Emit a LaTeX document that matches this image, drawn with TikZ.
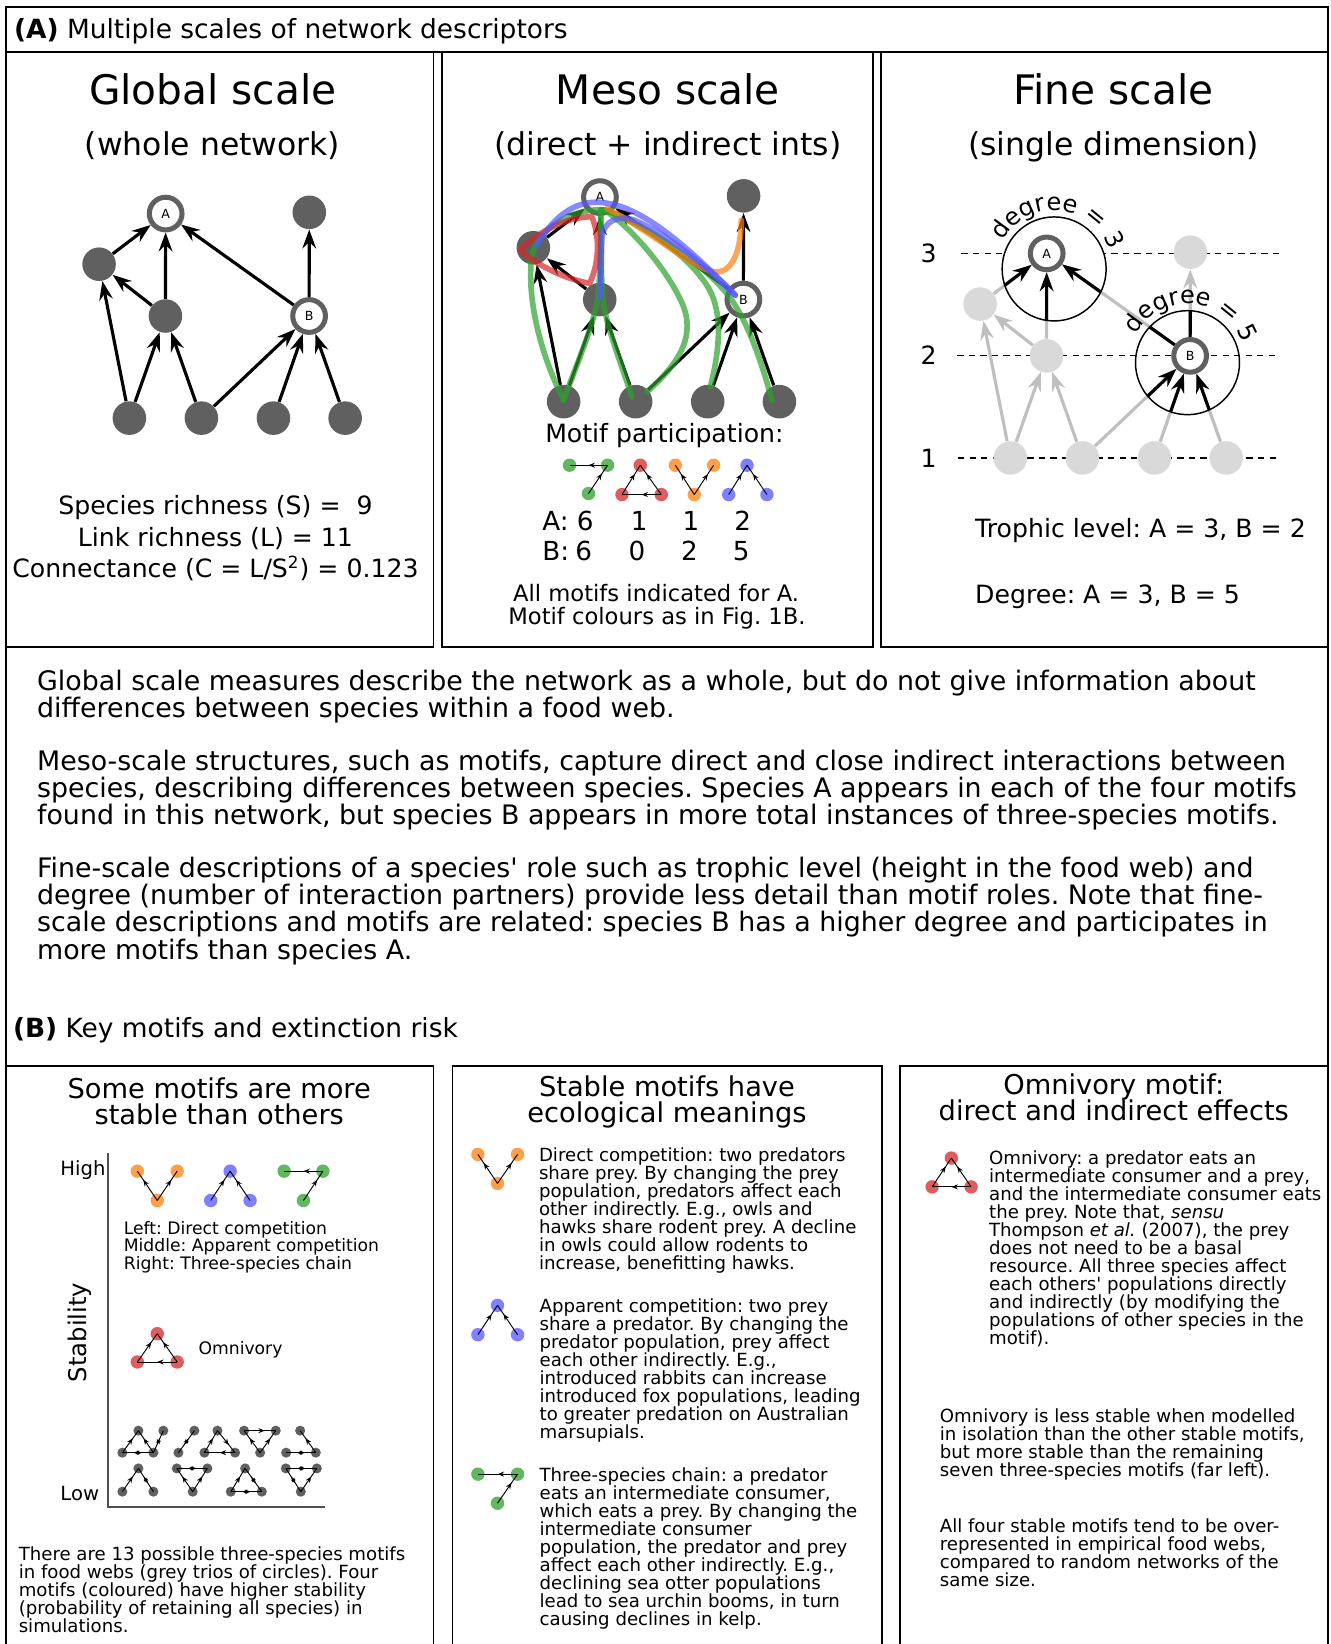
\documentclass[tikz,border=0pt]{standalone}
\usepackage{fontspec}
\setmainfont{DejaVu Sans}
\usetikzlibrary{arrows.meta,decorations.markings,decorations.text}
\frenchspacing

\definecolor{nodegrey}{HTML}{606060}
\definecolor{palegrey}{HTML}{D9D9D9}
\definecolor{edgegrey}{HTML}{BFBFBF}
\definecolor{axisgrey}{HTML}{505050}
\definecolor{motgreen}{HTML}{2CA02C}
\definecolor{motred}{HTML}{D62728}
\definecolor{motorange}{HTML}{FF7F0E}
\definecolor{motblue}{HTML}{5555FF}

\tikzstyle{boxline} = [line width=0.9pt]
\tikzstyle{species} = [circle, fill=nodegrey, minimum size=16pt, inner sep=0pt]
\tikzstyle{faded} = [circle, fill=palegrey, minimum size=16pt, inner sep=0pt]
\tikzstyle{focal} = [circle, draw=nodegrey, line width=2.4pt, fill=white,
  minimum size=15.6pt, inner sep=0pt, font=\fontsize{6}{6}\selectfont]
\tikzstyle{feeds} = [-{Stealth[length=9pt,width=6.5pt,inset=3pt]}, line width=1.5pt]
\tikzstyle{fadedfeeds} = [feeds, draw=edgegrey]
\tikzstyle{motifpath} = [line width=2.7pt, draw opacity=0.7, line cap=round, line join=round]
\tikzstyle{motdot} = [circle, minimum size=6.4pt, inner sep=0pt, fill opacity=0.75]
\tikzstyle{greydot} = [circle, fill=nodegrey, minimum size=4.8pt, inner sep=0pt]
\tikzstyle{iconline} = [line width=0.45pt]
\tikzstyle{bigtitle} = [font=\fontsize{19.4}{22}\selectfont, inner sep=0pt, anchor=base]
\tikzstyle{subtitle} = [font=\fontsize{15}{18}\selectfont, inner sep=0pt, anchor=base]
\tikzstyle{bodytext} = [font=\fontsize{12}{13}\selectfont, inner sep=0pt]
\tikzstyle{headtext} = [font=\fontsize{12.6}{13}\selectfont, inner sep=0pt, anchor=base west]
\tikzstyle{paratext} = [font=\fontsize{12.8}{13}\selectfont, inner sep=0pt, align=left, anchor=north west]
\tikzstyle{digits} = [font=\fontsize{12.5}{13}\selectfont, inner sep=0pt, anchor=base]
\tikzstyle{notetext} = [font=\fontsize{10.8}{11}\selectfont, inner sep=0pt, anchor=base]
\tikzstyle{boxtitle} = [font=\fontsize{13}{12.7}\selectfont, inner sep=0pt, align=center, anchor=north]
\tikzstyle{smalltext} = [font=\fontsize{8.65}{8.6}\selectfont, inner sep=0pt, align=left, anchor=north west]
\tikzstyle{keytext} = [font=\fontsize{8.2}{8.3}\selectfont, inner sep=0pt, align=left, anchor=north west]
\tikzstyle{levelline} = [dashed, line width=0.6pt, dash pattern=on 3pt off 2.5pt]

\tikzset{
  midtip/.style={postaction={decorate}, decoration={markings,
    mark=at position #1 with {\arrow{Stealth[length=3pt,width=2.4pt]}}}},
  bothtip/.style={postaction={decorate}, decoration={markings,
    mark=at position 0.36 with {\arrowreversed{Stealth[length=2.6pt,width=2pt]}},
    mark=at position 0.64 with {\arrow{Stealth[length=2.6pt,width=2pt]}}}},
}

% three small circles of one motif
\newcommand{\trio}[5]{%
  \node[#2] (#11) at (#3) {};
  \node[#2] (#12) at (#4) {};
  \node[#2] (#13) at (#5) {};}

% the nine species of the example web
\newcommand{\foodweb}[3]{%
  \node[#3] (#1A) at (158,203.7) {A};
  \node[#2] (#1T) at (295,202.5) {};
  \node[#2] (#1L) at (94.5,252) {};
  \node[#2] (#1M) at (157.8,301.4) {};
  \node[#3] (#1B) at (294.8,301.4) {B};
  \node[#2] (#11) at (123.4,398.8) {};
  \node[#2] (#12) at (192.1,398.8) {};
  \node[#2] (#13) at (260.8,398.8) {};
  \node[#2] (#14) at (329.2,398.8) {};}

\begin{document}
\begin{tikzpicture}[x=0.5pt,y=-0.5pt]
\useasboundingbox (0,0) rectangle (1269,1568);

% frames
\draw[boxline] (6,1568) -- (6,7) -- (1267,7) -- (1267,1568);
\draw[boxline] (6,49.5) -- (1267,49.5);
\node[headtext] (headA) at (13,37) {\textbf{(A)} Multiple scales of network descriptors};
\draw[boxline] (6,49.5) rectangle (413.5,617);
\draw[boxline] (421.4,49.5) rectangle (832.7,617);
\draw[boxline] (840.6,49.5) rectangle (1267,617);

% global scale
\node[bigtitle] (globhead) at (203,100) {Global scale};
\node[subtitle] (globsub) at (202.8,148) {(whole network)};
\foodweb{g}{species}{focal}
\foreach \s/\t in {L/A,M/A,B/A,B/T,M/L,1/L,1/M,2/M,2/B,3/B,4/B}
  \draw[feeds] (g\s) -- (g\t);
\node[bodytext, anchor=base] (richS) at (205.5,491) {Species richness (S) =\ \ 9};
\node[bodytext, anchor=base] (richL) at (205.5,521) {Link richness (L) = 11};
\node[bodytext, anchor=base] (connC) at (205.5,551) {Connectance (C = L/S\textsuperscript{2}) = 0.123};

% meso scale
\node[bigtitle] (mesohead) at (637,100) {Meso scale};
\node[subtitle] (mesosub) at (637,148) {(direct + indirect ints)};
\begin{scope}[shift={(414.2,-15.7)}]
\foodweb{m}{species}{focal}
\end{scope}
\foreach \s/\t in {L/A,M/A,B/A,B/T,M/L,1/L,1/M,2/M,2/B,3/B,4/B}
  \draw[feeds] (m\s) -- (m\t);

\draw[motifpath, motgreen] (537.5,381.7) .. controls (512,330) and (503,280) .. (507,245)
  .. controls (512,218) and (545,200) .. (572.5,200);
\draw[motifpath, motgreen] (537.5,381.7) .. controls (553,340) and (566,310) .. (570,285)
  .. controls (573,260) and (573,225) .. (573,200);
\draw[motifpath, motgreen] (602.7,378.5) .. controls (590,340) and (578,310) .. (575,285)
  .. controls (573,260) and (573,225) .. (573,200);
\draw[motifpath, motgreen] (617,373.7) .. controls (650,345) and (664,318) .. (650,288)
  .. controls (635,255) and (600,215) .. (576,200);
\draw[motifpath, motgreen] (677.5,369) .. controls (686,335) and (690,300) .. (676,275)
  .. controls (655,240) and (605,210) .. (576,200);
\draw[motifpath, motgreen] (736.3,381.7) .. controls (725,340) and (712,305) .. (695,282)
  .. controls (665,245) and (610,212) .. (576,200);
\draw[motifpath, motred] (496,238.5) .. controls (515,220) and (540,207) .. (564.5,206.7)
  .. controls (572,225) and (572,250) .. (562.3,270.3)
  .. controls (540,266) and (515,255) .. cycle;
\draw[motifpath, motorange] (578.9,198.8) .. controls (620,220) and (660,255) .. (680.6,259.2)
  .. controls (700,262) and (707,235) .. (707,210);
\draw[motifpath, motblue] (512,233.8) .. controls (535,195) and (560,190) .. (580,194)
  .. controls (620,200) and (670,250) .. (701.3,281.5);
\draw[motifpath, motblue] (572.5,283.5) -- (574,228) .. controls (575,210) and (590,205) .. (605,210)
  .. controls (640,225) and (680,260) .. (701.3,281.5);

\node[bodytext, anchor=base] (partic) at (633.7,421.9) {Motif participation:};
\trio{pg}{motdot, fill=motgreen}{543.2,443.7}{579.5,443.7}{561.3,470.7}
\trio{pr}{motdot, fill=motred}{610.7,443.7}{593.2,471.7}{630.7,471.7}
\trio{po}{motdot, fill=motorange}{644.1,443.7}{680.6,443.7}{662.2,471.7}
\trio{pb}{motdot, fill=motblue}{712.5,443.7}{695,471.7}{731.5,471.7}
\draw[iconline, midtip=0.5] (pg2.center) -- (pg1.center);
\draw[iconline, midtip=0.7] (pg3.center) -- (pg2.center);
\draw[iconline, midtip=0.7] (pr2.center) -- (pr1.center);
\draw[iconline, midtip=0.7] (pr3.center) -- (pr1.center);
\draw[iconline, midtip=0.5] (pr3.center) -- (pr2.center);
\draw[iconline, midtip=0.7] (po3.center) -- (po1.center);
\draw[iconline, midtip=0.7] (po3.center) -- (po2.center);
\draw[iconline, midtip=0.7] (pb2.center) -- (pb1.center);
\draw[iconline, midtip=0.7] (pb3.center) -- (pb1.center);

\node[digits, anchor=base west] (rowA) at (516.8,505.8) {A:};
\node[digits, anchor=base west] (rowB) at (516.8,534.4) {B:};
\foreach \n/\x [count=\i] in {6/558.2,1/609.7,1/659,2/708.3}
  \node[digits] (cntA\i) at (\x,505.8) {\n};
\foreach \n/\x [count=\i] in {6/556.7,0/607.5,2/657.6,5/706.9}
  \node[digits] (cntB\i) at (\x,534.4) {\n};
\node[notetext] (notea) at (625.8,573.5) {All motifs indicated for A.};
\node[notetext] (noteb) at (626.6,595.5) {Motif colours as in Fig. 1B.};

% fine scale
\node[bigtitle] (finehead) at (1061.8,100) {Fine scale};
\node[subtitle] (finesub) at (1062,148) {(single dimension)};
\coordinate (ringA) at (1005.4,256.5);
\coordinate (ringB) at (1132.6,345.9);
\draw[levelline] (917,241.7) -- (1224,241.7);
\draw[levelline] (913,339.4) -- (1216.6,339.4);
\draw[levelline] (913.8,436.8) -- (1221.4,436.8);
\node[bodytext, anchor=base] (lev3) at (885.8,250.4) {3};
\node[bodytext, anchor=base] (lev2) at (885.8,348) {2};
\node[bodytext, anchor=base] (lev1) at (885.8,445.5) {1};
\fill[white] (ringA) circle[radius=49.6];
\begin{scope}[shift={(840.3,38)}]
\foodweb{f}{faded}{focal}
\end{scope}
\foreach \s/\t in {L/A,M/A,B/A,B/T,M/L,1/L,1/M,2/M,2/B,3/B,4/B}
  \draw[fadedfeeds] (f\s) -- (f\t);
\begin{scope}
\clip (ringA) circle[radius=49.6];
\foreach \s in {L,M,B}
  \draw[feeds] (f\s) -- (fA);
\end{scope}
\begin{scope}
\clip (ringB) circle[radius=49.6];
\foreach \s/\t in {B/A,B/T,2/B,3/B,4/B}
  \draw[feeds] (f\s) -- (f\t);
\end{scope}
\draw[line width=0.7pt] (ringA) circle[radius=49.6];
\draw[line width=0.7pt] (ringB) circle[radius=49.6];
\path[decorate, decoration={text along path, text align=center,
  text={|\fontsize{11.5}{12}\selectfont|degree = 3}}]
  (ringA) ++(-160:56) arc[start angle=-160, end angle=-10, radius=56];
\path[decorate, decoration={text along path, text align=center,
  text={|\fontsize{11.5}{12}\selectfont|degree = 5}}]
  (ringB) ++(-160:56) arc[start angle=-160, end angle=-10, radius=56];
\node[bodytext, anchor=base west] (troph) at (929.7,512.2) {Trophic level: A = 3, B = 2};
\node[bodytext, anchor=base west] (degr) at (929.7,575.4) {Degree: A = 3, B = 5};

% explanation
\node[paratext] (paraglob) at (35,638.5)
  {Global scale measures describe the network as a whole, but do not give information about\\
   differences between species within a food web.};
\node[paratext] (parameso) at (35,715)
  {Meso-scale structures, such as motifs, capture direct and close indirect interactions between\\
   species, describing differences between species. Species A appears in each of the four motifs\\
   found in this network, but species B appears in more total instances of three-species motifs.};
\node[paratext] (parafine) at (35,817)
  {Fine-scale descriptions of a species\textquotesingle\ role such as trophic level (height in the food web) and\\
   degree (number of interaction partners) provide less detail than motif roles. Note that fine-\\
   scale descriptions and motifs are related: species B has a higher degree and participates in\\
   more motifs than species A.};

\node[headtext] (headB) at (12,990) {\textbf{(B)} Key motifs and extinction risk};
\draw[boxline] (6,1568) -- (6,1017) -- (413.5,1017) -- (413.5,1568);
\draw[boxline] (431.6,1568) -- (431.6,1017) -- (841.3,1017) -- (841.3,1568);
\draw[boxline] (858.8,1568) -- (858.8,1017) -- (1267,1017) -- (1267,1568);

% stability panel
\node[boxtitle] (stabhead) at (209.1,1027.2) {Some motifs are more\\stable than others};
\draw[axisgrey, line width=0.8pt] (102.7,1100) -- (102.7,1437) -- (309.6,1437);
\node[font=\fontsize{11.6}{12}\selectfont, rotate=90, inner sep=0pt] (stabaxis) at (76.3,1270.8) {Stability};
\node[font=\fontsize{9.35}{10}\selectfont, inner sep=0pt, anchor=base west] (high) at (57.3,1121.6) {High};
\node[font=\fontsize{9.35}{10}\selectfont, inner sep=0pt, anchor=base west] (low) at (57.3,1430.7) {Low};
\trio{so}{motdot, fill=motorange}{131,1117}{169,1117}{150,1145}
\trio{sb}{motdot, fill=motblue}{219.5,1117}{201,1145}{238.5,1145}
\trio{sg}{motdot, fill=motgreen}{271,1117}{308,1117}{289.4,1145}
\trio{sr}{motdot, fill=motred}{150,1272}{131,1299}{169,1299}
\draw[iconline, midtip=0.7] (so3.center) -- (so1.center);
\draw[iconline, midtip=0.7] (so3.center) -- (so2.center);
\draw[iconline, midtip=0.7] (sb2.center) -- (sb1.center);
\draw[iconline, midtip=0.7] (sb3.center) -- (sb1.center);
\draw[iconline, midtip=0.5] (sg2.center) -- (sg1.center);
\draw[iconline, midtip=0.7] (sg3.center) -- (sg2.center);
\draw[iconline, midtip=0.7] (sr2.center) -- (sr1.center);
\draw[iconline, midtip=0.7] (sr3.center) -- (sr1.center);
\draw[iconline, midtip=0.5] (sr3.center) -- (sr2.center);
\node[keytext] (stabkey) at (117.7,1164.4)
  {Left: Direct competition\\Middle: Apparent competition\\Right: Three-species chain};
\node[font=\fontsize{8.2}{8.3}\selectfont, inner sep=0pt, anchor=base west] (omnilabel) at (189,1292.2) {Omnivory};

% the nine other motifs
\trio{k1}{greydot}{132,1364.5}{116.7,1385.5}{146.3,1385.5}
\trio{k2}{greydot}{155.8,1364.5}{185.4,1364.5}{170.2,1385.5}
\trio{k3}{greydot}{207.4,1364.5}{195,1385.5}{224.2,1385.5}
\trio{k4}{greydot}{232.8,1364.5}{263,1364.5}{248.1,1385.5}
\trio{k5}{greydot}{286.3,1364.5}{272.9,1385.5}{301.2,1385.5}
\trio{k6}{greydot}{132,1400.5}{116.7,1422.7}{146.3,1422.7}
\trio{k7}{greydot}{168.6,1400.5}{197.8,1400.5}{183.8,1422.7}
\trio{k8}{greydot}{233.8,1400.5}{220.1,1422.7}{249.7,1422.7}
\trio{k9}{greydot}{272.6,1400.5}{302.2,1400.5}{286.9,1422.7}
\draw[iconline, midtip=0.65] (k12.center) -- (k11.center);
\draw[iconline, midtip=0.65] (k13.center) -- (k11.center);
\draw[iconline, bothtip] (k12.center) -- (k13.center);
\draw[iconline, bothtip] (k13.center) -- (k21.center);
\draw[iconline, bothtip] (k23.center) -- (k22.center);
\draw[iconline, midtip=0.65] (k32.center) -- (k31.center);
\draw[iconline, midtip=0.65] (k31.center) -- (k33.center);
\draw[iconline, midtip=0.5] (k33.center) -- (k32.center);
\draw[iconline, midtip=0.65] (k41.center) -- (k42.center);
\draw[iconline, midtip=0.65] (k43.center) -- (k41.center);
\draw[iconline, midtip=0.65] (k43.center) -- (k42.center);
\draw[iconline, midtip=0.65] (k53.center) -- (k51.center);
\draw[iconline, bothtip] (k52.center) -- (k53.center);
\draw[iconline, midtip=0.65] (k62.center) -- (k61.center);
\draw[iconline, bothtip] (k61.center) -- (k63.center);
\draw[iconline, bothtip] (k71.center) -- (k72.center);
\draw[iconline, midtip=0.65] (k73.center) -- (k71.center);
\draw[iconline, midtip=0.65] (k73.center) -- (k72.center);
\draw[iconline, midtip=0.65] (k82.center) -- (k81.center);
\draw[iconline, bothtip] (k83.center) -- (k81.center);
\draw[iconline, bothtip] (k82.center) -- (k83.center);
\draw[iconline, bothtip] (k91.center) -- (k92.center);
\draw[iconline, bothtip] (k93.center) -- (k91.center);
\draw[iconline, midtip=0.65] (k93.center) -- (k92.center);
\node[smalltext] (stabnote) at (17.5,1474.5)
  {There are 13 possible three-species motifs\\in food webs (grey trios of circles). Four\\motifs (coloured) have higher stability\\(probability of retaining all species) in\\simulations.};

% meanings panel
\node[boxtitle] (meanhead) at (636.1,1025.4) {Stable motifs have\\ecological meanings};
\trio{eo}{motdot, fill=motorange}{455.8,1101}{493.6,1101}{474.5,1128.7}
\trio{eb}{motdot, fill=motblue}{474.5,1245}{455.8,1273}{493.6,1273}
\trio{eg}{motdot, fill=motgreen}{455.8,1406}{493.6,1406}{474.5,1433.7}
\draw[iconline, midtip=0.7] (eo3.center) -- (eo1.center);
\draw[iconline, midtip=0.7] (eo3.center) -- (eo2.center);
\draw[iconline, midtip=0.7] (eb2.center) -- (eb1.center);
\draw[iconline, midtip=0.7] (eb3.center) -- (eb1.center);
\draw[iconline, midtip=0.5] (eg2.center) -- (eg1.center);
\draw[iconline, midtip=0.7] (eg3.center) -- (eg2.center);
\node[smalltext] (directtxt) at (513.7,1094.3)
  {Direct competition: two predators\\share prey. By changing the prey\\population, predators affect each\\other indirectly. E.g., owls and\\hawks share rodent prey. A decline\\in owls could allow rodents to\\increase, benefitting hawks.};
\node[smalltext] (apparenttxt) at (514.3,1238.2)
  {Apparent competition: two prey\\share a predator. By changing the\\predator population, prey affect\\each other indirectly. E.g.,\\introduced rabbits can increase\\introduced fox populations, leading\\to greater predation on Australian\\marsupials.};
\node[smalltext] (chaintxt) at (514.3,1399.2)
  {Three-species chain: a predator\\eats an intermediate consumer,\\which eats a prey. By changing the\\intermediate consumer\\population, the predator and prey\\affect each other indirectly. E.g.,\\declining sea otter populations\\lead to sea urchin booms, in turn\\causing declines in kelp.};

% omnivory panel
\node[boxtitle] (omnihead) at (1062.3,1023.6) {Omnivory motif:\\direct and indirect effects};
\trio{or}{motdot, fill=motred}{907.4,1104.5}{889,1132}{926.2,1132}
\draw[iconline, midtip=0.7] (or2.center) -- (or1.center);
\draw[iconline, midtip=0.7] (or3.center) -- (or1.center);
\draw[iconline, midtip=0.5] (or3.center) -- (or2.center);
\node[smalltext] (omnitxt) at (943,1097.1)
  {Omnivory: a predator eats an\\intermediate consumer and a prey,\\and the intermediate consumer eats\\the prey. Note that, \textit{sensu}\\Thompson \textit{et al.} (2007), the prey\\does not need to be a basal\\resource. All three species affect\\each others\textquotesingle\ populations directly\\and indirectly (by modifying the\\populations of other species in the\\motif).};
\node[smalltext] (omnistab) at (896,1343.1)
  {Omnivory is less stable when modelled\\in isolation than the other stable motifs,\\but more stable than the remaining\\seven three-species motifs (far left).};
\node[smalltext] (omniover) at (896,1447.9)
  {All four stable motifs tend to be over-\\represented in empirical food webs,\\compared to random networks of the\\same size.};
\end{tikzpicture}
\end{document}
